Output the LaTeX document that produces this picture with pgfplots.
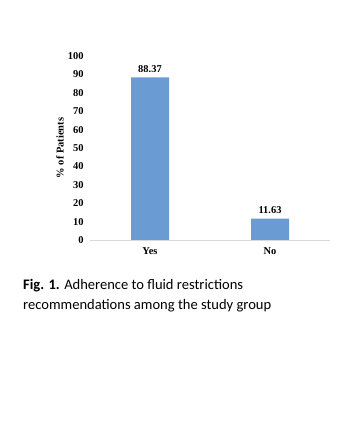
\documentclass[border=0pt]{standalone}
\usepackage{pgfplots}
\pgfplotsset{compat=1.18}
\usepackage{fontspec}
\setmainfont{Liberation Serif}
\newfontfamily\calib{Carlito}
\definecolor{barblue}{RGB}{106,155,210}
\definecolor{axgray}{RGB}{217,217,217}
\begin{document}
\begin{tikzpicture}
\path[fill=white] (0bp,0bp) rectangle (360bp,430bp);
\begin{axis}[
  at={(90bp,190bp)}, anchor=south west,
  scale only axis, width=240bp, height=184bp,
  xmin=-0.5, xmax=1.5, ymin=0, ymax=100,
  axis x line=bottom, axis y line=left,
  x axis line style={-, draw=axgray, line width=0.8pt},
  y axis line style={draw=none},
  major tick length=0pt,
  xtick={0,1}, xticklabels={Yes,No},
  ytick={0,10,...,100},
  /pgf/number format/assume math mode=true,
  ticklabel style={font=\bfseries\fontsize{10.5}{12}\selectfont},
  xticklabel style={yshift=-4bp},
  yticklabel style={xshift=-3bp},
  ylabel={\% of Patients},
  every axis y label/.style={at={(rel axis cs:-0.125,0.5)}, rotate=90, anchor=center, font=\bfseries\fontsize{10.5}{12}\selectfont},
  ybar, bar width=38bp,
  nodes near coords,
  nodes near coords style={yshift=1.5bp, font=\bfseries\fontsize{10.5}{12}\selectfont, /pgf/number format/.cd, fixed, precision=2, fixed zerofill, assume math mode=true},
]
\addplot[fill=barblue, draw=none] coordinates {(0,88.37) (1,11.63)};
\end{axis}
\node[anchor=west, align=left, font=\calib\fontsize{14.6}{20}\selectfont, inner sep=0pt] at (23bp,134bp) {\textbf{Fig. 1.} Adherence to fluid restrictions\\recommendations among the study group};
\end{tikzpicture}
\end{document}
